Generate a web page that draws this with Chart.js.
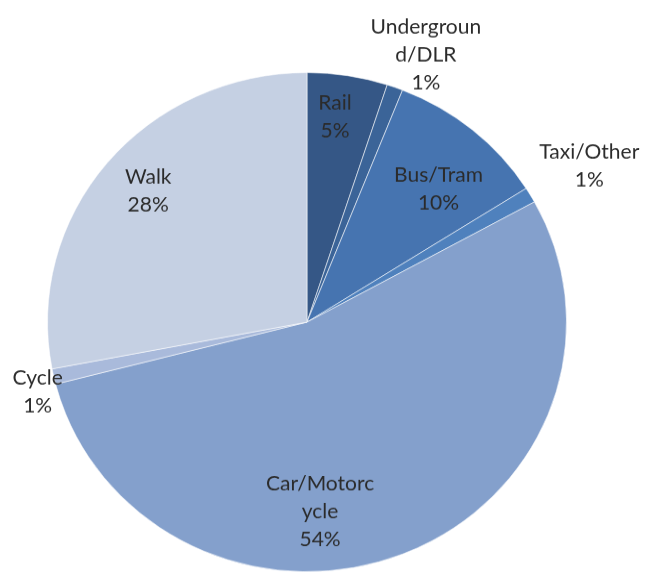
<!DOCTYPE html>
<html>
<head>
<meta charset="utf-8">
<script src="https://cdn.jsdelivr.net/npm/chart.js@4"></script>
<style>
  html, body { margin: 0; padding: 0; background: #fff; overflow: hidden; }
  #wrap { position: absolute; left: 0; top: 0; width: 650px; height: 572px; overflow: hidden; }
  #modeChart { position: absolute; left: 0; top: 0; transform: scaleY(0.9615); transform-origin: 0 0; }
</style>
</head>
<body>
<div id="wrap"><canvas id="modeChart" width="650" height="595"></canvas></div>
<script>
// categories as shown (wrapped the way the source wraps them)
const modes = ["Rail", ["Undergroun", "d/DLR"], "Bus/Tram", "Taxi/Other", ["Car/Motorc", "ycle"], "Cycle", "Walk"];
const shares = [5, 1, 10, 1, 54, 1, 28];
const sliceColors = ["#355786", "#3b6498", "#4674b0", "#4f81bd", "#84a0cc", "#a9badb", "#c5d0e3"];

// where each label sits: angle clockwise from top (deg), distance as fraction of radius
const labelAngle = [7.5, 23.2, 43.6, 60.1, 176.2, 254.9, 310.6];
const labelDist = [0.827, 1.163, 0.735, 1.255, 0.76, 1.075, 0.806];

const pieLabels = {
  id: "pieLabels",
  afterDraw(chart) {
    const ctx = chart.ctx;
    const meta = chart.getDatasetMeta(0);
    const total = shares.reduce((a, b) => a + b, 0);
    ctx.save();
    ctx.font = "21px Lato";
    ctx.fillStyle = "#2b2b2b";
    ctx.textAlign = "center";
    ctx.textBaseline = "middle";
    meta.data.forEach((arc, i) => {
      const a = labelAngle[i] * Math.PI / 180;
      const r = arc.outerRadius * labelDist[i];
      const x = arc.x + Math.sin(a) * r;
      const y = arc.y - Math.cos(a) * r;
      const lines = [].concat(modes[i], Math.round(shares[i] / total * 100) + "%");
      const lh = 29;
      const y0 = y - (lines.length - 1) * lh / 2;
      lines.forEach((t, k) => ctx.fillText(t, x, y0 + k * lh));
    });
    ctx.restore();
  }
};

new Chart(document.getElementById("modeChart"), {
  type: "pie",
  data: {
    labels: modes,
    datasets: [{
      data: shares,
      backgroundColor: sliceColors,
      borderColor: "rgba(255,255,255,0.55)",
      borderWidth: 1,
      hoverOffset: 0
    }]
  },
  options: {
    responsive: false,
    animation: false,
    layout: { padding: { left: 47, right: 83, top: 75, bottom: 0 } },
    plugins: {
      legend: { display: false },
      tooltip: { enabled: false }
    }
  },
  plugins: [pieLabels]
});
</script>
</body>
</html>
